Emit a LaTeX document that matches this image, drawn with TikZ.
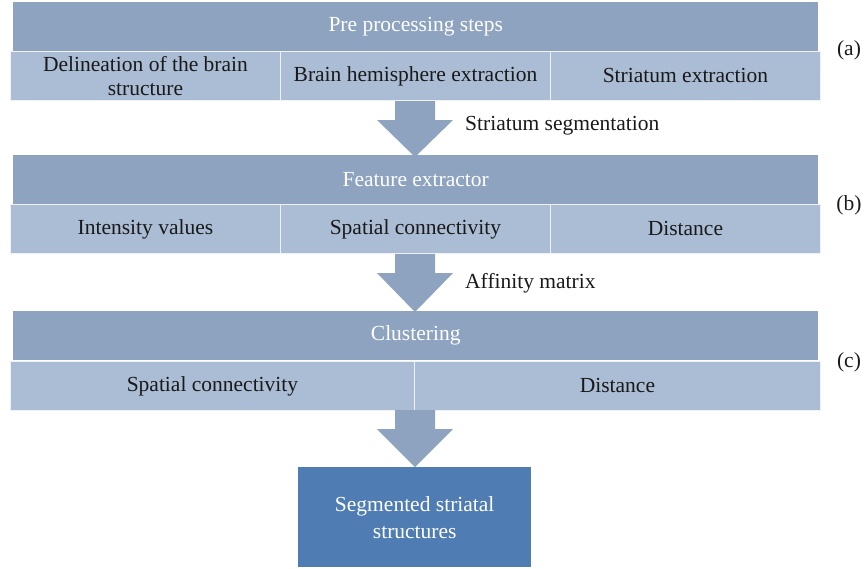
\documentclass[tikz,border=0pt]{standalone}
\usepackage{fontspec}
\setmainfont{Liberation Serif}
\definecolor{hdrblue}{HTML}{8DA3C0}
\definecolor{cellblue}{HTML}{ABBDD4}
\definecolor{outblue}{HTML}{4F7CB3}
\tikzset{
  header/.style={rectangle, fill=hdrblue, text=white, anchor=north west, inner sep=0pt, minimum height=49pt, font=\fontsize{21.5}{24}\selectfont},
  cell/.style={rectangle, fill=cellblue, draw=white!80!cellblue, line width=0.9pt, anchor=north west, inner sep=0pt, minimum height=49pt, align=center, text=black!90, font=\fontsize{21.5}{24}\selectfont},
  result/.style={rectangle, fill=outblue, text=white, anchor=north west, inner sep=0pt, minimum width=233pt, minimum height=100pt, align=center, font=\fontsize{21.5}{27}\selectfont},
  steplabel/.style={anchor=west, inner sep=0pt, text=black!90, font=\fontsize{21.5}{24}\selectfont},
  partlabel/.style={inner sep=0pt, text=black!90, font=\fontsize{21.5}{24}\selectfont}
}
\begin{document}
\begin{tikzpicture}[x=1pt, y=-1pt]
				\useasboundingbox (0,0) rectangle (867,568);
				\node[header, minimum width=805pt] (PreHdr)at(13, 2) {Pre processing steps};
				\node[cell, minimum width=270pt] (Delin)at(10, 51) {Delineation of the brain\\structure};
				\node[cell, minimum width=270pt] (Hemi)at(280, 51) {Brain hemisphere extraction};
				\node[cell, minimum width=270pt] (StrEx)at(550, 51) {Striatum extraction};
				\node[partlabel] (LabA)at(849, 50) {(a)};
				\node[header, minimum width=805pt] (FeatHdr)at(13, 155) {Feature extractor};
				\node[cell, minimum width=270pt] (Inten)at(10, 204) {Intensity values};
				\node[cell, minimum width=270pt] (SpConA)at(280, 204) {Spatial connectivity};
				\node[cell, minimum width=270pt] (DistA)at(550, 204) {Distance};
				\node[partlabel] (LabB)at(849, 205) {(b)};
				\node[header, minimum width=805pt] (ClusHdr)at(13, 311) {Clustering};
				\node[cell, minimum width=404pt] (SpConB)at(10, 361) {Spatial connectivity};
				\node[cell, minimum width=406pt] (DistB)at(414, 361) {Distance};
				\node[partlabel] (LabC)at(849, 362) {(c)};
				\node[result] (Segm)at(298, 467) {Segmented striatal\\structures};
				\foreach \t/\b in {101/157, 254/312, 410/467}
					\fill[hdrblue] (395,\t) -- (435,\t) -- (435,\t+19) -- (453,\t+19) -- (415,\b) -- (377,\t+19) -- (395,\t+19) -- cycle;
				\node[steplabel] (SegLbl)at(465, 126) {Striatum segmentation};
				\node[steplabel] (AffLbl)at(465, 283) {Affinity matrix};
			\end{tikzpicture}
\end{document}
